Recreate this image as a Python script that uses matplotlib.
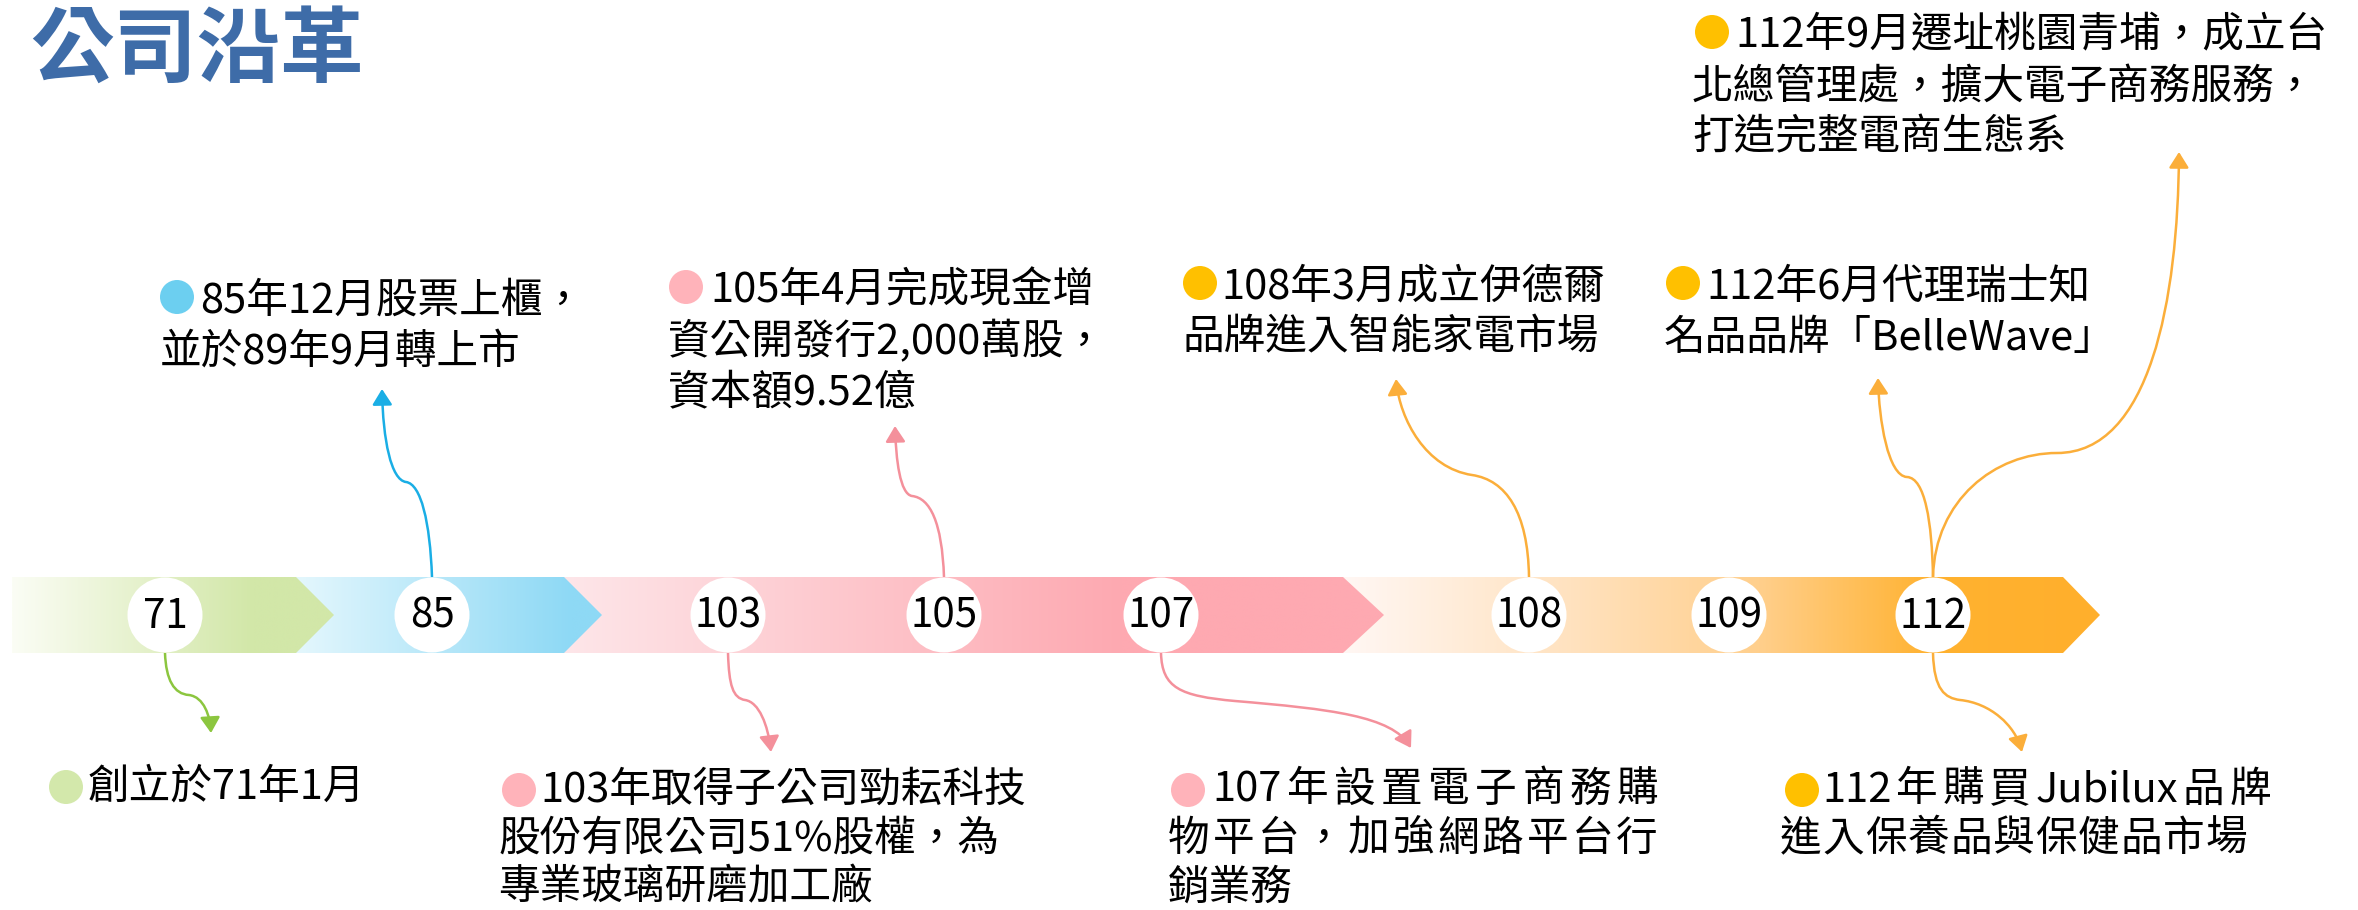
import re
import numpy as np
import matplotlib
matplotlib.use('Agg')
import matplotlib.pyplot as plt
from matplotlib.path import Path
from matplotlib.patches import Polygon, Circle, FancyArrowPatch
from matplotlib.colors import LinearSegmentedColormap

plt.rcParams['font.family'] = ['Noto Sans CJK TC', 'DejaVu Sans']

# ---- data ----
title = '公司沿革'
years = ['71', '85', '103', '105', '107', '108', '109', '112']
events = [
    ['創立於71年1月'],
    ['85年12月股票上櫃，', '並於89年9月轉上市'],
    ['103年取得子公司勁耘科技', '股份有限公司51%股權，為', '專業玻璃研磨加工廠'],
    ['105年4月完成現金增', '資公開發行2,000萬股，', '資本額9.52億'],
    ['107年設置電子商務購', '物平台，加強網路平台行', '銷業務'],
    ['108年3月成立伊德爾', '品牌進入智能家電市場'],
    ['112年6月代理瑞士知', '名品品牌「BelleWave」'],
    ['112年9月遷址桃園青埔，成立台', '北總管理處，擴大電子商務服務，', '打造完整電商生態系'],
    ['112年購買Jubilux品牌', '進入保養品與保健品市場'],
]
event_era = [0, 1, 2, 2, 2, 3, 3, 3, 3]

# ---- styles ----
era_stops = [
    [(0, '#fbfdf5'), (0.75, '#d2e7a8'), (1, '#d2e7a8')],
    [(0, '#e4f7fd'), (0.9, '#8ed9f5'), (1, '#8ed9f5')],
    [(0, '#fde6e9'), (0.68, '#fea9b1'), (1, '#fea9b1')],
    [(0, '#fff7f4'), (0.3, '#ffe2bf'), (0.55, '#ffcf8c'), (0.78, '#ffb230'), (1, '#ffaf2c')],
]
era_line = ['#8cc63f', '#1aaee5', '#f4909b', '#fbae3a']
era_dot = ['#d3e8ab', '#6ccff0', '#ffb3ba', '#ffc000']

W, H = 2358, 910
fig = plt.figure(figsize=(W / 100, H / 100), dpi=100)
ax = fig.add_axes([0, 0, 1, 1])

# timeline band
top, bot = 577, 653
mid = (top + bot) / 2
segments = [(12, 296, 334), (296, 564, 602), (564, 1343, 1384), (1343, 2063, 2100)]
grad = np.linspace(0, 1, 512)[None, :]
for k in range(len(segments) - 1, -1, -1):
    x0, x1, tip = segments[k]
    cmap = LinearSegmentedColormap.from_list('e%d' % k, era_stops[k])
    poly = Polygon([(x0, top), (x1, top), (tip, mid), (x1, bot), (x0, bot)],
                   closed=True, facecolor='none', edgecolor='none')
    ax.add_patch(poly)
    im = ax.imshow(grad, cmap=cmap, extent=(x0, tip, bot, top), aspect='auto',
                   zorder=2 + (3 - k) * 0.1, interpolation='bilinear')
    im.set_clip_path(poly)

# connectors
connectors = [
    (0, [(165, 653), (166, 680), (174, 694), (189, 695), (204, 697), (210, 716), (211, 733)]),
    (1, [(432, 577), (430, 522), (421, 484), (406, 482), (391, 480), (383, 440), (382, 389)]),
    (2, [(728, 653), (729, 686), (733, 698), (745, 700), (759, 702), (768, 725), (771, 752)]),
    (2, [(944, 577), (942, 522), (930, 498), (912, 496), (900, 494), (896, 460), (895, 426)]),
    (2, [(1161, 653), (1162, 688), (1180, 696), (1235, 701), (1330, 709), (1392, 716), (1411, 748)]),
    (3, [(1529, 577), (1528, 512), (1506, 480), (1472, 475), (1426, 468), (1400, 420), (1396, 379)]),
    (3, [(1933, 577), (1932, 522), (1925, 478), (1907, 477), (1888, 476), (1879, 420), (1878, 378)]),
    (3, [(1933, 577), (1935, 500), (1995, 453), (2057, 453), (2150, 453), (2178, 300), (2179, 152)]),
    (3, [(1933, 653), (1934, 690), (1945, 698), (1960, 700), (1990, 703), (2015, 725), (2022, 752)]),
]
for era, pts in connectors:
    codes = [Path.MOVETO] + [Path.CURVE4] * (len(pts) - 1)
    arr = FancyArrowPatch(path=Path(pts, codes), arrowstyle='-|>,head_length=0.95,head_width=0.6',
                          mutation_scale=10, lw=1.8, color=era_line[era],
                          shrinkA=0, shrinkB=0, zorder=1)
    ax.add_patch(arr)

# year circles
year_x = [165, 432, 728, 944, 1161, 1529, 1729, 1933]
for x, y in zip(year_x, years):
    ax.add_patch(Circle((x, mid), 37.5, facecolor='white', edgecolor='none', zorder=5))
    ax.text(x, mid + 1, y, fontsize=29, ha='center', va='center', color='black', zorder=6)

# event texts: bullet x, bullet y, first-line x, other-lines x, text shift, line step
FS = 30
event_pos = [
    (66, 787, 88, 50, 0, 49),
    (177, 297, 200, 160, 4, 51),
    (519, 790, 540, 498, 0, 49),
    (686, 287, 710, 668, 4, 51),
    (1188, 790, 1212, 1168, 0, 49),
    (1200, 283, 1221, 1183, 4, 51),
    (1683, 283, 1706, 1664, 4, 51),
    (1712, 32, 1735, 1692, 4, 51),
    (1802, 790, 1822, 1780, 0, 49),
]
justify = {(4, 0): 1658, (4, 1): 1658, (8, 0): 2271, (8, 1): 2247}
renderer = fig.canvas.get_renderer()


def put_line(x, y, s, right=None):
    if right is None:
        ax.text(x, y, s, fontsize=FS, ha='left', va='center', color='black', zorder=6)
        return
    toks = re.findall(r'[A-Za-z0-9.,%]+|.', s)
    objs = [ax.text(0, y, t, fontsize=FS, ha='left', va='center', color='black', zorder=6)
            for t in toks]
    widths = [o.get_window_extent(renderer).width for o in objs]
    gap = (right - x - sum(widths)) / max(len(toks) - 1, 1)
    cx = x
    for o, w in zip(objs, widths):
        o.set_x(cx)
        cx += w + gap


for i, lines in enumerate(events):
    bx, by, tx, cx, dy, step = event_pos[i]
    ax.add_patch(Circle((bx, by), 17, facecolor=era_dot[event_era[i]], edgecolor='none', zorder=6))
    for j, line in enumerate(lines):
        put_line(tx if j == 0 else cx, by + dy + j * step, line, justify.get((i, j)))

ax.text(30, 51, title, fontsize=60, fontweight='bold', color='#3e6ca8', ha='left', va='center')

ax.set_xlim(0, W)
ax.set_ylim(H, 0)
ax.axis('off')
fig.savefig('out.png', dpi=100, facecolor='white')
